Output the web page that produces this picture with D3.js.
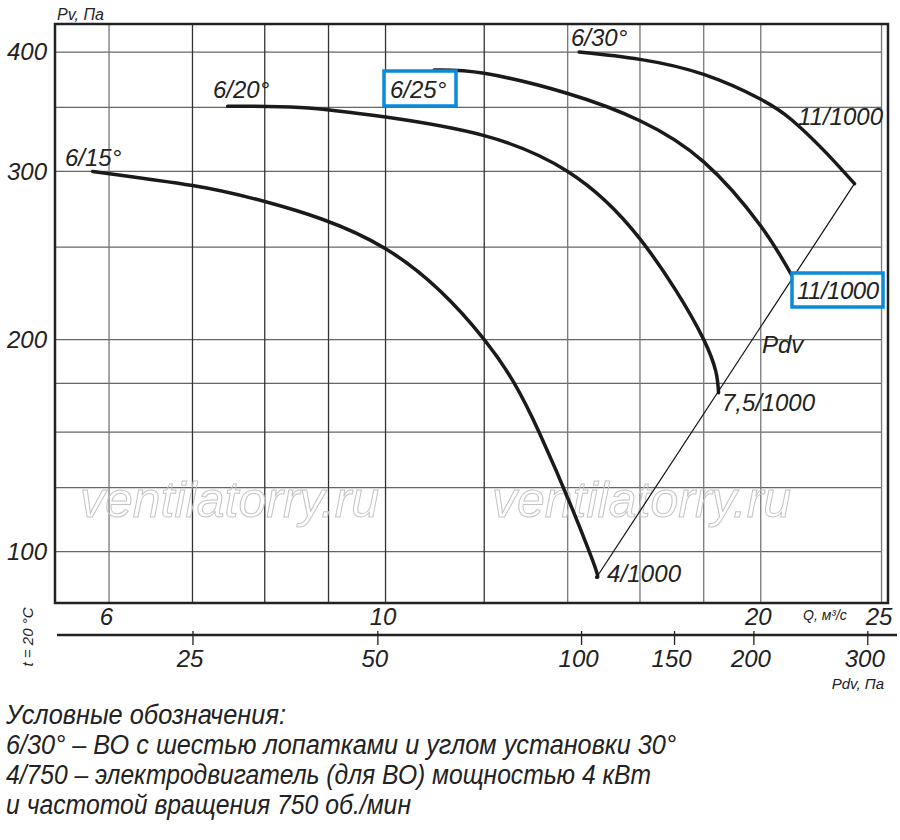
<!DOCTYPE html>
<html>
<head>
<meta charset="utf-8">
<script src="https://cdn.jsdelivr.net/npm/d3@7"></script>
<style>
  body { margin: 0; background: #fff; }
  text { font-family: "Liberation Sans", Arial, sans-serif; font-style: italic; fill: #222; }
  .legend text { font-family: "Liberation Sans Narrow", "Liberation Sans", sans-serif; font-stretch: condensed; }
</style>
</head>
<body>
<script>
// Q axis (m3/s), log
var qTicks = [6, 10, 20, 25];
var qGrid = [6, 7, 8, 9, 10, 12, 14, 16, 18, 20, 25];
// Pv axis (Pa), log - the lowest gridline is labelled "100" in the source
var pGrid = [400, 350, 300, 250, 200, 180, 160, 140, 120];
var pTicks = [400, 300, 200, 120];
var pTickLabels = ["400", "300", "200", "100"];
// dynamic pressure scale under the Q axis, and where each tick sits in Q
var pdvTicks = [25, 50, 100, 150, 200, 300];
var pdvAtQ = [7.0, 9.85, 14.35, 17.04, 19.73, 24.35];

// fan curves (Q, Pv)
var q15 = [5.82, 7.0, 8.0, 10.0, 12.0, 13.28, 14.57, 14.77];
var p15 = [300, 290, 279, 249, 200, 160, 120, 112.8];
var q20 = [7.47, 8.54, 10.0, 12.0, 14.0, 16.0, 18.0, 18.5];
var p20 = [351, 350, 342, 327, 300, 255, 200, 176];
var q25 = [10.94, 12.0, 14.0, 16.0, 18.0, 20.0, 21.2];
var p25 = [383, 380, 362, 339, 307, 263, 233];
var q30 = [14.3, 16.0, 18.0, 20.0, 21.16, 22.45, 23.78];
var p30 = [400, 393, 379, 357, 340, 316, 291.3];

var curveNames = ["6/15°", "6/20°", "6/25°", "6/30°"];
var motorNames = ["4/1000", "7,5/1000", "11/1000", "11/1000"];

var legendLines = [
  "Условные обозначения:",
  "6/30° – ВО с шестью лопатками и углом установки 30°",
  "4/750 – электродвигатель (для ВО) мощностью 4 кВт",
  "и частотой вращения 750 об./мин"
];

var W = 900, H = 840;
var svg = d3.select("body").append("svg").attr("width", W).attr("height", H);
svg.append("rect").attr("width", W).attr("height", H).attr("fill", "#fff");

var fL = 55, fR = 888, fT = 24, fB = 603;
var x = d3.scaleLog().domain([5.43, 25.3]).range([fL, fR]);
var y = d3.scaleLog().domain([106, 428]).range([fB, fT]);
var pdvScale = d3.scaleLog().domain(pdvTicks).range(pdvAtQ.map(function(q){ return x(q); }));

// grid
svg.append("g").selectAll("line").data(pGrid).enter().append("line")
  .attr("x1", fL).attr("x2", x(25))
  .attr("y1", function(d){ return y(d); }).attr("y2", function(d){ return y(d); })
  .attr("stroke", "#666").attr("stroke-width", 1.3);
svg.append("g").selectAll("line").data(qGrid).enter().append("line")
  .attr("x1", function(d){ return x(d); }).attr("x2", function(d){ return x(d); })
  .attr("y1", fT).attr("y2", fB)
  .attr("stroke", function(d){ return (d > 6 && d < 14) ? "#333" : "#777"; })
  .attr("stroke-width", 1.3);

// watermark
[80, 492].forEach(function(wx){
  svg.append("text").text("ventilatorry.ru")
    .attr("x", wx).attr("y", 517)
    .attr("font-size", 50)
    .style("fill", "none").attr("stroke", "#c4c4c4").attr("stroke-width", 1);
});

// frame
svg.append("path")
  .attr("d", "M" + fL + "," + fT + "H" + fR + "V" + fB + "H" + fL + "Z")
  .attr("fill", "none").attr("stroke", "#222").attr("stroke-width", 2.5);

// fan curves
var line = d3.line()
  .x(function(d){ return x(d[0]); })
  .y(function(d){ return y(d[1]); })
  .curve(d3.curveNatural);
var curves = [d3.zip(q15, p15), d3.zip(q20, p20), d3.zip(q25, p25), d3.zip(q30, p30)];
svg.append("g").selectAll("path").data(curves).enter().append("path")
  .attr("d", line).attr("fill", "none")
  .attr("stroke", "#1a1a1a").attr("stroke-width", 3.5).attr("stroke-linecap", "round");

// Pdv line through the curve ends
var pdvLine = [curves[0][curves[0].length - 1], curves[3][curves[3].length - 1]];
svg.append("path").attr("d", d3.line().x(function(d){ return x(d[0]); }).y(function(d){ return y(d[1]); })(pdvLine))
  .attr("fill", "none").attr("stroke", "#111").attr("stroke-width", 1.2);

// highlight boxes
var blue = "#0a8ad8";
svg.append("rect").attr("x", 384).attr("y", 71).attr("width", 72).attr("height", 35)
  .attr("fill", "#fff").attr("stroke", blue).attr("stroke-width", 3.5);
svg.append("rect").attr("x", 792).attr("y", 273).attr("width", 91).attr("height", 34)
  .attr("fill", "#fff").attr("stroke", blue).attr("stroke-width", 3.5);

// curve labels
var lab = svg.append("g").attr("font-size", 24);
lab.append("text").text(curveNames[0]).attr("x", 65).attr("y", 166);
lab.append("text").text(curveNames[1]).attr("x", 213).attr("y", 98);
lab.append("text").text(curveNames[2]).attr("x", 390).attr("y", 98);
lab.append("text").text(curveNames[3]).attr("x", 571).attr("y", 46);
lab.append("text").text(motorNames[0]).attr("x", 607).attr("y", 582).attr("textLength", 74);
lab.append("text").text(motorNames[1]).attr("x", 722).attr("y", 411).attr("textLength", 93);
lab.append("text").text(motorNames[2]).attr("x", 797).attr("y", 299).attr("textLength", 82);
lab.append("text").text(motorNames[3]).attr("x", 798).attr("y", 125).attr("textLength", 85);
lab.append("text").text("Pdv").attr("x", 762).attr("y", 353);

// Y axis
var ya = svg.append("g").attr("transform", "translate(" + fL + ",0)")
  .call(d3.axisLeft(y).tickValues(pTicks).tickSize(0).tickPadding(8)
    .tickFormat(function(d, i){ return pTickLabels[i]; }));
ya.select(".domain").remove();
ya.selectAll("text").attr("font-size", 24).attr("font-family", null).attr("dy", "0.33em");
svg.append("text").text("Pv, Па").attr("x", 57).attr("y", 20).attr("font-size", 16);

// Q axis
var xa = svg.append("g").attr("transform", "translate(0," + fB + ")")
  .call(d3.axisBottom(x).tickValues(qTicks).tickSize(0).tickFormat(d3.format("d")));
xa.select(".domain").remove();
xa.selectAll("text").attr("font-size", 24).attr("font-family", null).attr("y", 22).attr("dy", null).attr("dx", -3);
svg.append("text").text("Q, м³/с").attr("x", 803).attr("y", 620).attr("font-size", 14);

// Pdv axis
var pa = svg.append("g").attr("transform", "translate(0,635)")
  .call(d3.axisBottom(pdvScale).tickValues(pdvTicks).tickSize(10).tickFormat(d3.format("d")));
pa.select(".domain").remove();
pa.selectAll("line").attr("y1", -4).attr("stroke", "#222").attr("stroke-width", 1.3);
pa.selectAll("text").attr("font-size", 24).attr("font-family", null).attr("y", 32).attr("dy", null).attr("dx", -3);
svg.append("line").attr("x1", 57).attr("x2", 897).attr("y1", 635).attr("y2", 635)
  .attr("stroke", "#222").attr("stroke-width", 2.5);
svg.append("text").text("Pdv, Па").attr("x", 884).attr("y", 689).attr("text-anchor", "end").attr("font-size", 15);

svg.append("text").text("t = 20 °C").attr("font-size", 15).attr("text-anchor", "middle")
  .attr("transform", "translate(33,637) rotate(-90)");

// legend
var lg = svg.append("g").attr("class", "legend").attr("font-size", 27);
var lgWidths = [280, 670, 645, 405];
lg.selectAll("text").data(legendLines).enter().append("text")
  .text(function(d){ return d; })
  .attr("x", 6).attr("y", function(d, i){ return 724 + i * 30; })
  .attr("textLength", function(d, i){ return lgWidths[i]; })
  .attr("lengthAdjust", "spacingAndGlyphs");
</script>
</body>
</html>
